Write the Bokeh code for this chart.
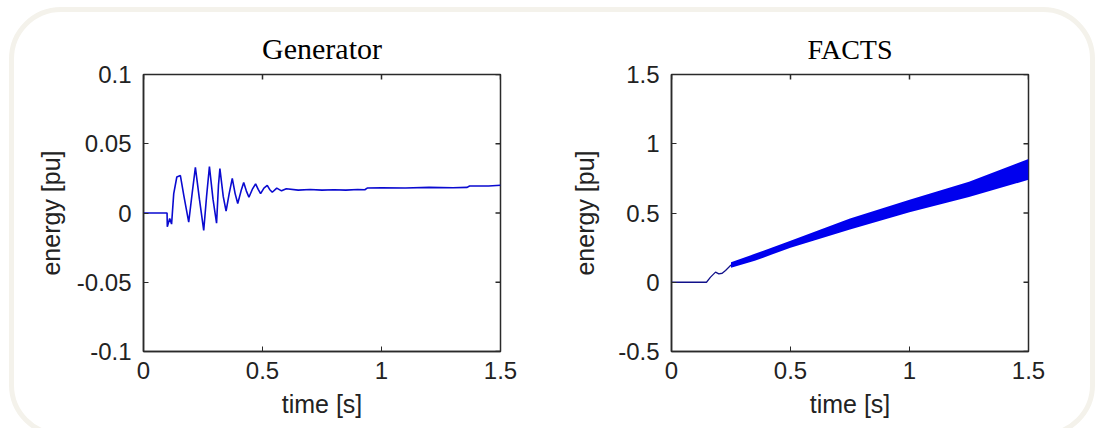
import math
from bokeh.plotting import figure
from bokeh.layouts import row
from bokeh.models import FixedTicker, Range1d, InlineStyleSheet
from bokeh.embed import file_html
from bokeh.resources import INLINE

# ---------------- data ----------------
gen_t = [0.0, 0.099, 0.1, 0.11, 0.118, 0.127, 0.14, 0.155, 0.17, 0.19,
         0.205, 0.218, 0.235, 0.253, 0.265, 0.277, 0.292, 0.307, 0.315, 0.321,
         0.335, 0.347, 0.36, 0.373, 0.385, 0.396, 0.41, 0.421, 0.432, 0.443,
         0.457, 0.471, 0.482, 0.492, 0.506, 0.52, 0.53, 0.541, 0.56, 0.58,
         0.6, 0.65, 0.7, 0.75, 0.8, 0.85, 0.9, 0.93, 0.94, 1.0,
         1.1, 1.2, 1.3, 1.36, 1.37, 1.45, 1.5]
gen_e = [0.0, 0.0, -0.01, -0.004, -0.008, 0.014, 0.026, 0.027, 0.012, -0.0066,
         0.015, 0.033, 0.01, -0.0126, 0.012, 0.0336, 0.01, -0.0074, 0.02, 0.032,
         0.012, 0.0013, 0.014, 0.025, 0.014, 0.0069, 0.016, 0.022, 0.016, 0.0114,
         0.017, 0.021, 0.017, 0.014, 0.018, 0.0199, 0.017, 0.015, 0.018, 0.016,
         0.0175, 0.0165, 0.017, 0.0165, 0.0168, 0.0165, 0.017, 0.0168, 0.018, 0.0182,
         0.018, 0.0185, 0.0182, 0.0185, 0.0195, 0.0195, 0.02]

facts_t = [0.0, 0.147, 0.164, 0.185, 0.199, 0.213, 0.227, 0.248, 0.255]
facts_e = [0.0, 0.0, 0.037, 0.073, 0.061, 0.065, 0.085, 0.121, 0.125]

band_t = [0.25, 0.35, 0.5, 0.75, 1.0, 1.25, 1.5]
band_hi = [0.145, 0.205, 0.30, 0.46, 0.595, 0.725, 0.89]
band_lo = [0.105, 0.155, 0.25, 0.38, 0.505, 0.615, 0.74]

x_ticks = [0, 0.5, 1, 1.5]
x_labels = ["0", "0.5", "1", "1.5"]
gen_y_ticks = [-0.1, -0.05, 0, 0.05, 0.1]
gen_y_labels = ["-0.1", "-0.05", "0", "0.05", "0.1"]
facts_y_ticks = [-0.5, 0, 0.5, 1, 1.5]
facts_y_labels = ["-0.5", "0", "0.5", "1", "1.5"]

TICK_FONT = "Liberation Sans"
TITLE_FONT = "Liberation Serif"
AX = "#2a2a2a"


def make_fig(title, title_size, yr, yticks, ylabels, left, right, ylab_standoff):
    p = figure(frame_width=357, frame_height=277,
               min_border_left=left, min_border_right=right,
               min_border_top=74, min_border_bottom=77,
               x_range=Range1d(0, 1.5), y_range=Range1d(*yr),
               output_backend="svg", toolbar_location=None,
               title=title)
    p.title.text_font = TITLE_FONT
    p.title.text_font_size = title_size
    p.title.text_font_style = "normal"
    p.title.align = "center"
    p.title.text_color = "#000000"
    p.title.standoff = 19
    p.grid.visible = False
    p.outline_line_color = AX
    p.outline_line_width = 1.5
    p.outline_line_alpha = 1.0
    p.background_fill_color = "white"
    p.border_fill_alpha = 0.0

    p.xaxis.ticker = FixedTicker(ticks=x_ticks)
    p.yaxis.ticker = FixedTicker(ticks=yticks)
    p.xaxis.major_label_overrides = dict(zip(x_ticks, x_labels))
    p.yaxis.major_label_overrides = dict(zip(yticks, ylabels))
    p.xaxis.axis_label = "time [s]"
    p.yaxis.axis_label = "energy [pu]"
    for ax in (p.xaxis[0], p.yaxis[0]):
        ax.axis_line_color = AX
        ax.axis_line_width = 1.5
        ax.major_tick_in = 5
        ax.major_tick_out = 0
        ax.major_tick_line_color = AX
        ax.minor_tick_line_color = None
        ax.major_label_text_font = TICK_FONT
        ax.major_label_text_font_size = "24px"
        ax.major_label_text_color = "#222222"
        ax.axis_label_text_font = TICK_FONT
        ax.axis_label_text_font_size = "25px"
        ax.axis_label_text_font_style = "normal"
        ax.axis_label_text_color = "#222222"
    p.xaxis.major_label_standoff = 10
    p.xaxis.axis_label_standoff = 8
    p.yaxis.major_label_standoff = 12
    p.yaxis.axis_label_standoff = ylab_standoff

    # MATLAB-style inward ticks on the top and right edges of the box
    ytop = yr[1]
    p.ray(x=x_ticks, y=[ytop] * len(x_ticks), length=5, length_units="screen",
          angle=-math.pi / 2, line_color=AX, line_width=1.5)
    p.ray(x=[1.5] * len(yticks), y=yticks, length=5, length_units="screen",
          angle=math.pi, line_color=AX, line_width=1.5)
    return p


p1 = make_fig("Generator", "30px", (-0.1, 0.1), gen_y_ticks, gen_y_labels, 143, 52, 9)
p1.line(gen_t, gen_e, line_color="#0a0ad0", line_width=1.6)

p2 = make_fig("FACTS", "28px", (-0.5, 1.5), facts_y_ticks, facts_y_labels, 119, 76, 16)
p2.line(facts_t, facts_e, line_color="#10108a", line_width=1.3)
p2.varea(x=band_t, y1=band_lo, y2=band_hi, fill_color="#0000ee")

frame_css = InlineStyleSheet(css="""
:host { position: relative; overflow: hidden; }
:host::before {
  content: "";
  position: absolute;
  left: 9px; top: 7px; right: 9px; height: 430px;
  border: 5px solid #f4f2eb;
  border-radius: 52px;
  box-sizing: border-box;
  pointer-events: none;
}
""")

lay = row(p1, p2, stylesheets=[frame_css])

open("out.html", "w").write(file_html(lay, INLINE))
